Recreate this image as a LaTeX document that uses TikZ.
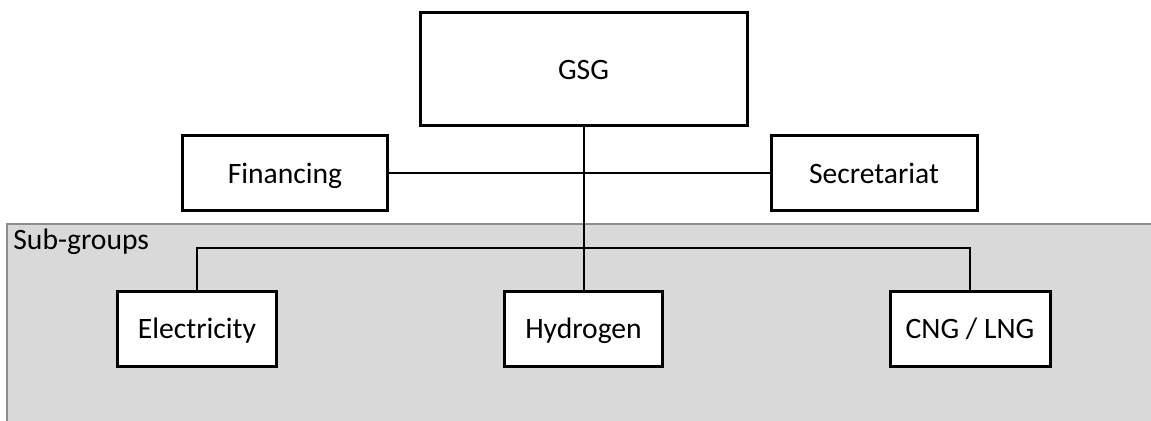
\documentclass[tikz,border=0pt]{standalone}
\usepackage{fontspec}
\setmainfont{Carlito}
\usepackage{tikz}
\usetikzlibrary{positioning}

\begin{document}
\begin{tikzpicture}[x=0.5pt, y=-0.5pt, every node/.style={font=\fontsize{14.8}{17}\selectfont}]
        \tikzstyle{block} = [rectangle, draw=black, line width=1.5pt, fill=white,
            inner sep=0pt, text height=10pt, text depth=0pt, minimum height=37.5pt, align=center]
        \tikzstyle{link} = [line width=1pt]

        \useasboundingbox (0,0) rectangle (1151,421);

        % sub-group area
        \fill[fill={rgb,255:red,217;green,217;blue,217}, draw={rgb,255:red,140;green,140;blue,140}, line width=0.6pt]
            (7,224) rectangle (1160,430);
        \node (area) [anchor=base west, inner sep=0pt] at (13,250) {Sub-groups};

        \node (gsg) [block, minimum width=163.5pt, minimum height=56.5pt] at (583.5,69.5) {GSG};
        \node (fin) [block, minimum width=102.5pt] at (285,173.2) {Financing};
        \node (sec) [block, minimum width=103pt] at (874,173.2) {Secretariat};

        \node (elec) [block, minimum width=79.5pt] at (197,328.7) {Electricity};
        \node (hyd) [block, minimum width=79pt] at (583.5,329) {Hydrogen};
        \node (cng) [block, minimum width=80pt] at (970,329) {CNG / LNG};

        \coordinate (bus) at (583.5,248);

        \draw [link] (fin) -- (sec);
        \draw [link] (gsg.south) -- (hyd.north);
        \draw [link] (elec.north) |- (bus) -| (cng.north);
    \end{tikzpicture}
\end{document}
